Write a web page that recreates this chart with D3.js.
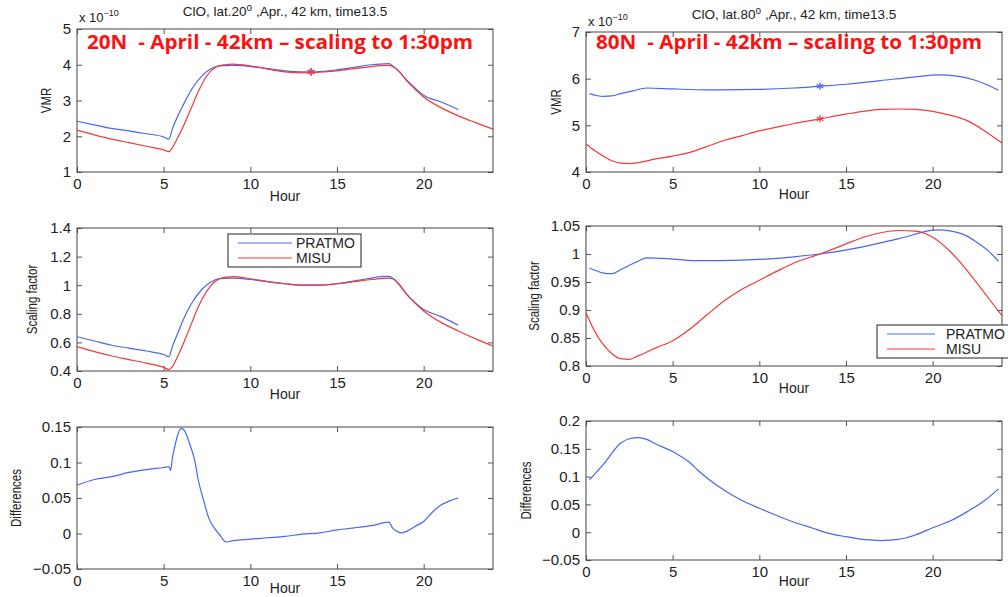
<!DOCTYPE html>
<html><head><meta charset="utf-8">
<script src="https://cdn.jsdelivr.net/npm/d3@7"></script>
<style>
body{margin:0;background:#fff;}
svg{display:block;font-family:"Liberation Sans",Arial,sans-serif;}
</style></head><body>
<svg id="c" width="1008" height="597"></svg>
<script>
// ---------- data ----------
const hourTicks = [0,5,10,15,20];
// 20N VMR (x1e-10)
const vmr20_pratmo_h = [0,1,2,3,4,5,5.3,5.5,5.8,6.1,6.6,7.2,7.7,8.2,9,10,11,12,13,13.5,14,15,16,17,17.5,18,18.2,18.6,19,19.5,20,21,22];
const vmr20_pratmo_v = [2.42,2.32,2.22,2.15,2.07,1.98,1.92,2.2,2.55,2.85,3.3,3.68,3.88,3.97,3.98,3.95,3.89,3.83,3.8,3.8,3.81,3.86,3.93,4.0,4.02,4.03,3.97,3.8,3.58,3.35,3.15,2.96,2.75];
const vmr20_misu_h = [0,1,2,3,4,5,5.3,5.5,5.8,6.2,6.6,7,7.5,8,8.5,9,10,11,12,13,13.5,14,15,16,17,18,18.3,18.7,19,19.5,20,21,22,23,24];
const vmr20_misu_v = [2.17,2.04,1.92,1.82,1.72,1.62,1.57,1.68,1.95,2.35,2.8,3.25,3.7,3.93,4.0,4.02,3.97,3.88,3.8,3.77,3.78,3.79,3.83,3.89,3.95,3.98,3.93,3.75,3.56,3.32,3.1,2.8,2.57,2.38,2.2];
// 80N VMR (x1e-10)
const vmr80_pratmo_h = [0.2,0.6,1,1.5,2,2.7,3.5,5,7,10,12,13.5,15,17,19,20.3,21.5,22.5,23.2,23.8];
const vmr80_pratmo_v = [5.68,5.64,5.62,5.63,5.68,5.74,5.8,5.78,5.76,5.77,5.8,5.84,5.88,5.96,6.04,6.08,6.05,5.96,5.86,5.75];
const vmr80_misu_h = [0,0.5,1,1.5,2,2.5,3,4,5,6,7,8,9,10,11,12,13.5,15,16,17,18,19,20,21,22,23,24];
const vmr80_misu_v = [4.6,4.46,4.34,4.24,4.19,4.18,4.2,4.28,4.34,4.42,4.55,4.68,4.78,4.88,4.96,5.04,5.14,5.24,5.3,5.34,5.35,5.34,5.3,5.22,5.1,4.88,4.62];
// 20N scaling factor
const sf20_pratmo_h = [0,1,2,3,4,5,5.3,5.5,5.8,6.1,6.6,7.2,7.7,8.2,9,10,11,12,13,13.5,14,15,16,17,17.5,18,18.2,18.6,19,19.5,20,21,22];
const sf20_pratmo_v = [0.64,0.61,0.58,0.56,0.54,0.515,0.5,0.57,0.66,0.75,0.87,0.97,1.02,1.045,1.05,1.04,1.025,1.01,1.0,1.0,1.0,1.01,1.03,1.05,1.06,1.062,1.05,1.0,0.94,0.88,0.83,0.78,0.72];
const sf20_misu_h = [0,1,2,3,4,5,5.3,5.5,5.8,6.2,6.6,7,7.5,8,8.5,9,10,11,12,13,13.5,14,15,16,17,18,18.3,18.7,19,19.5,20,21,22,23,24];
const sf20_misu_v = [0.57,0.535,0.505,0.48,0.455,0.425,0.41,0.43,0.5,0.61,0.73,0.85,0.96,1.03,1.055,1.06,1.045,1.025,1.01,1.0,1.0,1.0,1.01,1.025,1.04,1.05,1.04,0.99,0.94,0.875,0.82,0.74,0.68,0.625,0.575];
// 80N scaling factor
const sf80_pratmo_h = [0.2,0.6,1,1.5,2,2.5,3,3.5,5,6.5,9,12,13.5,15.5,18,20.3,21.7,22.5,23.2,23.8];
const sf80_pratmo_v = [0.975,0.97,0.966,0.965,0.972,0.98,0.987,0.993,0.991,0.988,0.989,0.995,1.0,1.01,1.027,1.043,1.036,1.022,1.006,0.987];
const sf80_misu_h = [0,0.5,1,1.5,2,2.5,3,4,5,6,7,8,9,10,11,12,13.5,15,16,17,18,19,20,21,22,23,24];
const sf80_misu_v = [0.895,0.862,0.838,0.822,0.813,0.812,0.818,0.832,0.845,0.866,0.892,0.917,0.937,0.953,0.969,0.984,1.0,1.018,1.03,1.038,1.042,1.041,1.03,1.005,0.97,0.93,0.89];
// differences
const diff20_h = [0,1,2,3,4,5,5.3,5.4,5.5,5.6,5.8,6,6.2,6.5,6.8,7,7.3,7.6,8,8.3,8.6,9,10,11,12,13,14,15,16,17,18,18.2,18.4,18.7,19,19.5,20,20.5,21,21.5,22];
const diff20_v = [0.068,0.076,0.08,0.086,0.09,0.093,0.094,0.089,0.106,0.118,0.138,0.148,0.145,0.126,0.102,0.075,0.047,0.022,0.005,-0.004,-0.012,-0.01,-0.008,-0.006,-0.004,-0.001,0.001,0.005,0.008,0.011,0.016,0.008,0.004,0.001,0.003,0.01,0.017,0.03,0.04,0.046,0.05];
const diff80_h = [0.2,1,2,2.5,3,3.5,4,5,6,6.5,7,8,9,10,11,12,13,14,15,16,17,18,19,20,21,22,23,23.8];
const diff80_v = [0.094,0.122,0.16,0.168,0.17,0.167,0.159,0.145,0.125,0.11,0.097,0.075,0.057,0.043,0.03,0.018,0.008,-0.002,-0.008,-0.013,-0.015,-0.013,-0.005,0.008,0.02,0.037,0.057,0.078];

const vmrTicks20 = [1,2,3,4,5];
const vmrTicks80 = [4,5,6,7];
const sfTicks20 = [0.4,0.6,0.8,1,1.2,1.4];
const sfTicks80 = [0.8,0.85,0.9,0.95,1,1.05];
const diffTicks20 = [-0.05,0,0.05,0.1,0.15];
const diffTicks80 = [-0.05,0,0.05,0.1,0.15,0.2];
const seriesNames = ["PRATMO","MISU"];
const titles = ["ClO, lat.20","ClO, lat.80"];
const overlay = ["20N  - April - 42km \u2013 scaling to 1:30pm","80N  - April - 42km \u2013 scaling to 1:30pm"];

// ---------- drawing ----------
const BLUE = "#4a66f0", RED = "#f23a3a";
const svg = d3.select("#c");
const fmt = v => (v<0 ? "\u2212"+Math.abs(v) : String(v));
const zip = (h,v) => h.map((x,i)=>[x,v[i]]);

function panel(o){
  const x = d3.scaleLinear().domain([0,24]).range([o.l,o.r]);
  const y = d3.scaleLinear().domain(o.yd).range([o.b,o.t]);
  const g = svg.append("g");
  const tl = 5;
  g.append("g").attr("transform",`translate(0,${o.b})`)
    .call(d3.axisBottom(x).tickValues(hourTicks).tickSize(-tl).tickPadding(6).tickFormat(fmt));
  g.append("g").attr("transform",`translate(0,${o.t})`)
    .call(d3.axisTop(x).tickValues(hourTicks).tickSize(-tl).tickFormat(""));
  g.append("g").attr("transform",`translate(${o.l},0)`)
    .call(d3.axisLeft(y).tickValues(o.yt).tickSize(-tl).tickPadding(6).tickFormat(fmt));
  g.append("g").attr("transform",`translate(${o.r},0)`)
    .call(d3.axisRight(y).tickValues(o.yt).tickSize(-tl).tickFormat(""));
  g.selectAll(".domain").remove();
  g.selectAll(".tick line").attr("stroke","#555");
  g.selectAll(".tick text").attr("font-size",15).attr("fill","#222").attr("font-family","Liberation Sans, Arial");
  g.append("rect").attr("x",o.l).attr("y",o.t).attr("width",o.r-o.l).attr("height",o.b-o.t)
    .attr("fill","none").attr("stroke","#444").attr("stroke-width",1);
  const line = d3.line().x(d=>x(d[0])).y(d=>y(d[1])).curve(d3.curveMonotoneX);
  o.series.forEach(s=>{
    g.append("path").attr("d",line(s.d)).attr("fill","none").attr("stroke",s.c).attr("stroke-width",1.2);
  });
  (o.stars||[]).forEach(s=>{
    g.append("path").attr("d",d3.symbol(d3.symbolAsterisk,40)()).attr("transform",`translate(${x(s[0])},${y(s[1])})`)
      .attr("stroke",s[2]).attr("stroke-width",1.2).attr("fill","none");
  });
  g.append("text").attr("x",(o.l+o.r)/2).attr("y",o.b+o.xl).attr("text-anchor","middle")
    .attr("font-size",14).attr("fill","#222").text("Hour");
  g.append("text").attr("transform",`translate(${o.ylx},${(o.t+o.b)/2}) rotate(-90) scale(0.82,1)`)
    .attr("text-anchor","middle").attr("font-size",14).attr("fill","#222").text(o.ylab);
  return {x,y,g};
}

const L = {l:77,r:493}, R = {l:586,r:1002};
const p1 = panel({...L,t:29,b:172,yd:[1,5],yt:vmrTicks20,xl:29,ylx:51,ylab:"VMR",
  series:[{d:zip(vmr20_pratmo_h,vmr20_pratmo_v),c:BLUE},{d:zip(vmr20_misu_h,vmr20_misu_v),c:RED}],
  stars:[[13.5,3.8,"#8844cc"],[13.5,3.8,RED]]});
const p2 = panel({...R,t:32,b:172,yd:[4,7],yt:vmrTicks80,xl:27,ylx:561,ylab:"VMR",
  series:[{d:zip(vmr80_pratmo_h,vmr80_pratmo_v),c:BLUE},{d:zip(vmr80_misu_h,vmr80_misu_v),c:RED}],
  stars:[[13.5,5.84,BLUE],[13.5,5.14,RED]]});
const p3 = panel({...L,t:228,b:371,yd:[0.4,1.4],yt:sfTicks20,xl:28,ylx:37,ylab:"Scaling factor",
  series:[{d:zip(sf20_pratmo_h,sf20_pratmo_v),c:BLUE},{d:zip(sf20_misu_h,sf20_misu_v),c:RED}]});
const p4 = panel({...R,t:226,b:366,yd:[0.8,1.05],yt:sfTicks80,xl:27,ylx:539,ylab:"Scaling factor",
  series:[{d:zip(sf80_pratmo_h,sf80_pratmo_v),c:BLUE},{d:zip(sf80_misu_h,sf80_misu_v),c:RED}]});
const p5 = panel({...L,t:427,b:569,yd:[-0.05,0.15],yt:diffTicks20,xl:24,ylx:21,ylab:"Differences",
  series:[{d:zip(diff20_h,diff20_v),c:BLUE}]});
const p6 = panel({...R,t:421,b:560,yd:[-0.05,0.2],yt:diffTicks80,xl:26,ylx:531,ylab:"Differences",
  series:[{d:zip(diff80_h,diff80_v),c:BLUE}]});

// titles
[[L,12,titles[0]],[R,15,titles[1]]].forEach(([B,yy,t],i)=>{
  const tx = svg.append("text").attr("x",(B.l+B.r)/2).attr("y",yy+4).attr("text-anchor","middle")
    .attr("font-size",13.5).attr("fill","#222");
  tx.append("tspan").text(t);
  tx.append("tspan").attr("dy",-5).attr("font-size",10).text("o");
  tx.append("tspan").attr("dy",5).text(" ,Apr., 42 km, time13.5");
  const ex = svg.append("text").attr("x",B.l+2).attr("y",yy+10+(i?1:0)).attr("font-size",13).attr("fill","#222");
  ex.append("tspan").text("x 10");
  ex.append("tspan").attr("dy",-6).attr("font-size",9).text("\u221210");
  svg.append("text").attr("x",B.l+10).attr("y",49).attr("font-size",19).attr("font-weight","bold")
    .style("white-space","pre")
    .attr("textLength",386).attr("lengthAdjust","spacingAndGlyphs")
    .attr("font-family","'Open Sans', Lato, sans-serif").attr("fill","#ff1010").text(overlay[i]);
});

// legends
function legend(x0,y0,w,h,lx1,lx2,tx){
  const g = svg.append("g");
  g.append("rect").attr("x",x0).attr("y",y0).attr("width",w).attr("height",h).attr("fill","#fff").attr("stroke","#222");
  [[BLUE,seriesNames[0]],[RED,seriesNames[1]]].forEach(([c,n],i)=>{
    const yy = y0+9+i*15;
    g.append("line").attr("x1",lx1).attr("x2",lx2).attr("y1",yy).attr("y2",yy).attr("stroke",c).attr("stroke-width",1.2);
    g.append("text").attr("x",tx).attr("y",yy+5).attr("font-size",14).attr("fill","#222").text(n);
  });
}
legend(228,234,133,33,238,292,296);
legend(877,325,140,33,887,935,946);
</script>
</body></html>
